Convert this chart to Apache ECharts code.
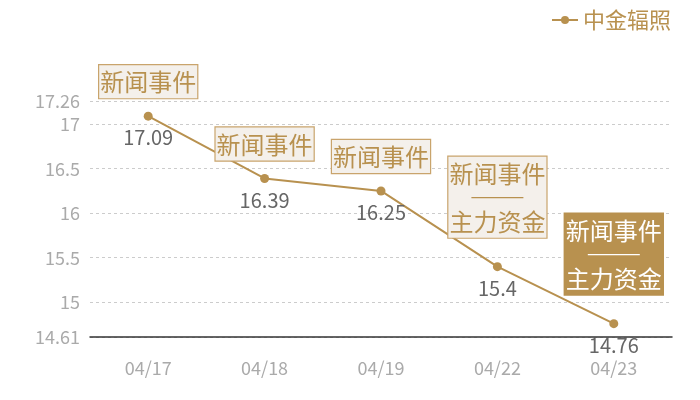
<!DOCTYPE html>
<html>
<head>
<meta charset="utf-8">
<script src="https://cdn.jsdelivr.net/npm/echarts@6/dist/echarts.min.js"></script>
<style>
  html, body { margin: 0; padding: 0; background: #fff; }
  #chart { width: 700px; height: 400px; }
</style>
</head>
<body>
<div id="chart"></div>
<script>
const dates = ['04/17', '04/18', '04/19', '04/22', '04/23'];
const prices = [17.09, 16.39, 16.25, 15.4, 14.76];
const events = ['新闻事件', '新闻事件', '新闻事件', '新闻事件\n{hr|}\n主力资金', '新闻事件\n{hr|}\n主力资金'];
const yMin = 14.61;
const yMax = 17.26;

const gold = '#b8914f';
const font = '"Noto Sans CJK SC", "Noto Sans", sans-serif';

const chartDom = document.getElementById('chart');
const myChart = echarts.init(chartDom);

// boxes above the points
const eventData = prices.map((v, i) => {
  const last = i === prices.length - 1;
  const multi = events[i].indexOf('\n') >= 0;
  return {
    value: v,
    label: {
      formatter: events[i],
      distance: multi ? 28 : 17,
      color: last ? '#fff' : gold,
      backgroundColor: last ? gold : '#f4f0eb',
      borderColor: last ? gold : '#c9a46c',
      rich: {
        hr: {
          width: 52,
          height: 0,
          lineHeight: 20,
          borderColor: last ? '#fff' : gold,
          borderWidth: 1.2,
          align: 'center',
        },
      },
    },
  };
});

const option = {
  textStyle: { fontFamily: font },
  animation: false,
  legend: {
    right: 24,
    top: 4,
    itemWidth: 26,
    itemHeight: 10,
    itemGap: 6,
    data: ['中金辐照'],
    textStyle: { color: gold, fontSize: 22, fontFamily: font },
  },
  grid: {
    left: 90,
    right: 28,
    top: 101,
    bottom: 63,
  },
  xAxis: {
    type: 'category',
    data: dates,
    boundaryGap: true,
    axisLine: { lineStyle: { color: '#333', width: 1.5 } },
    axisTick: { show: false },
    axisLabel: { color: '#aaa', fontSize: 18, margin: 22, fontFamily: font },
  },
  yAxis: {
    type: 'value',
    min: yMin,
    max: yMax,
    splitNumber: 5,
    axisLine: { show: false },
    axisTick: { show: false },
    axisLabel: { color: '#aaa', fontSize: 18, margin: 10, fontFamily: font },
    splitLine: { lineStyle: { color: '#ccc', type: [3, 3] } },
  },
  series: [
    {
      name: '中金辐照',
      type: 'line',
      data: prices,
      symbol: 'circle',
      symbolSize: 9,
      itemStyle: { color: gold },
      lineStyle: { color: gold, width: 2 },
      label: {
        show: true,
        position: 'bottom',
        distance: 7,
        color: '#666',
        fontSize: 20,
        fontFamily: font,
      },
      z: 3,
    },
    {
      name: 'events',
      type: 'line',
      data: eventData,
      symbol: 'circle',
      symbolSize: 2,
      showAllSymbol: true,
      itemStyle: { color: 'rgba(0,0,0,0)' },
      lineStyle: { width: 0, color: 'rgba(0,0,0,0)' },
      label: {
        show: true,
        position: 'top',
        fontSize: 24,
        lineHeight: 28,
        padding: [3, 1, 2, 1],
        borderWidth: 1.2,
        fontFamily: font,
      },
      silent: true,
      z: 5,
    },
  ],
};

myChart.setOption(option);

window.addEventListener('resize', function () {
  myChart.resize();
});
</script>
</body>
</html>
